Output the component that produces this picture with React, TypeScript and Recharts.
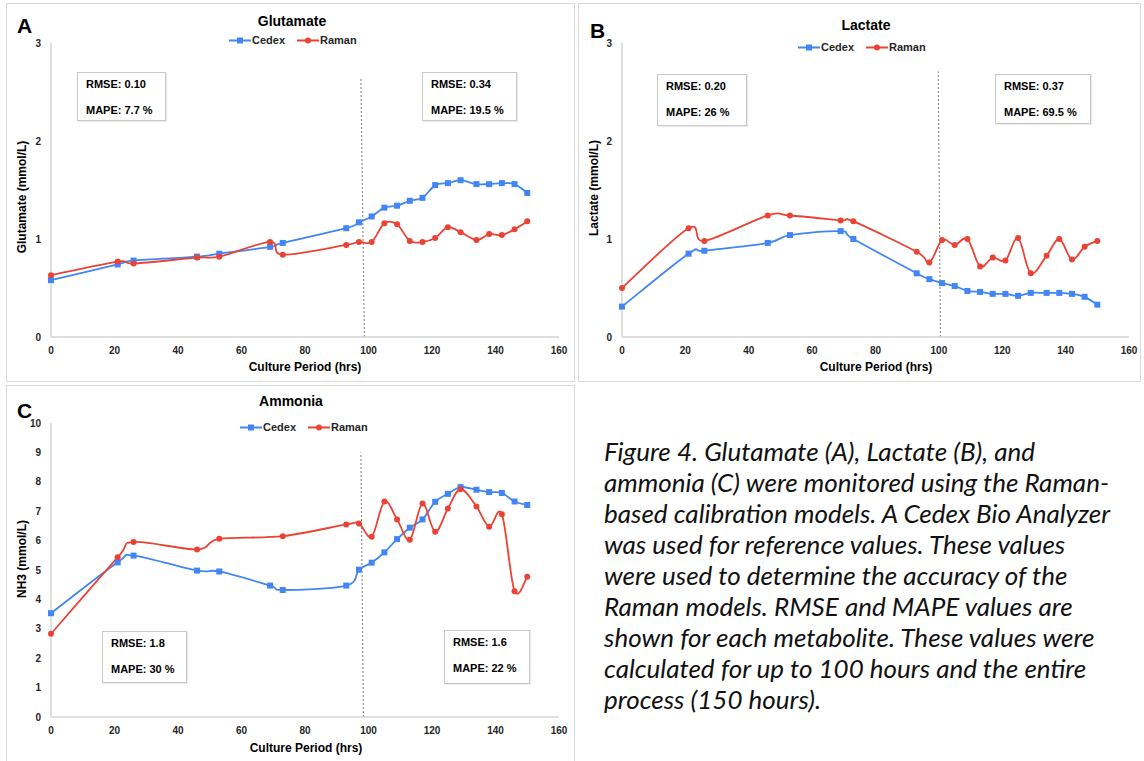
import { LineChart, Line, XAxis, YAxis, ReferenceLine } from "recharts";

// sampling times (h), shared by every series
const hours = [0, 21, 26, 46, 53, 69, 73, 93, 97, 101, 105, 109, 113, 117, 121, 125, 129, 134, 138, 142, 146, 150];
const hourTicks = [0, 20, 40, 60, 80, 100, 120, 140, 160];

const glutamateCedex = [0.58, 0.74, 0.78, 0.82, 0.85, 0.92, 0.96, 1.11, 1.17, 1.23, 1.32, 1.34, 1.39, 1.42, 1.55, 1.57, 1.6, 1.56, 1.56, 1.57, 1.56, 1.47];
const glutamateRaman = [0.63, 0.77, 0.75, 0.81, 0.82, 0.97, 0.84, 0.94, 0.97, 0.97, 1.16, 1.15, 0.98, 0.97, 1.01, 1.12, 1.07, 0.99, 1.05, 1.04, 1.1, 1.18];

const lactateCedex = [0.31, 0.85, 0.88, 0.96, 1.04, 1.08, 1.0, 0.65, 0.59, 0.55, 0.52, 0.47, 0.46, 0.44, 0.44, 0.42, 0.45, 0.45, 0.45, 0.44, 0.41, 0.33];
const lactateRaman = [0.5, 1.11, 0.98, 1.24, 1.24, 1.19, 1.18, 0.87, 0.76, 0.99, 0.94, 1.0, 0.72, 0.81, 0.78, 1.01, 0.65, 0.83, 1.0, 0.79, 0.92, 0.98];

// no Raman reading at 69 h for ammonia
const ammoniaCedex = [3.53, 5.26, 5.49, 4.98, 4.95, 4.47, 4.32, 4.47, 5.01, 5.25, 5.6, 6.05, 6.44, 6.72, 7.32, 7.59, 7.82, 7.73, 7.65, 7.62, 7.33, 7.21];
const ammoniaRaman = [2.83, 5.43, 5.95, 5.7, 6.06, null, 6.15, 6.55, 6.58, 6.13, 7.33, 6.72, 6.03, 7.26, 6.3, 7.09, 7.75, 7.16, 6.47, 6.9, 4.28, 4.77];

const mmolTicks = [0, 1, 2, 3];
const nh3Ticks = [0, 1, 2, 3, 4, 5, 6, 7, 8, 9, 10];

const glutamateStats = [["RMSE: 0.10", "MAPE: 7.7 %"], ["RMSE: 0.34", "MAPE: 19.5 %"]];
const lactateStats = [["RMSE: 0.20", "MAPE: 26 %"], ["RMSE: 0.37", "MAPE: 69.5 %"]];
const ammoniaStats = [["RMSE: 1.8", "MAPE: 30 %"], ["RMSE: 1.6", "MAPE: 22 %"]];

const captionLines = [
  "Figure 4. Glutamate (A), Lactate (B), and",
  "ammonia (C) were monitored using the Raman-",
  "based calibration models. A Cedex Bio Analyzer",
  "was used for reference values. These values",
  "were used to determine the accuracy of the",
  "Raman models. RMSE and MAPE values are",
  "shown for each metabolite. These values were",
  "calculated for up to 100 hours and the entire",
  "process (150 hours).",
];

const BLUE = "#4285f4";
const RED = "#ea4335";
const FONT = '"Liberation Sans", Arial, sans-serif';

// Excel-style smoothed line (cardinal spline, tension 0)
const excelSmooth = (context: any) => {
  let pts: number[][] = [];
  return {
    areaStart() {},
    areaEnd() {},
    lineStart() {
      pts = [];
    },
    point(x: number, y: number) {
      pts.push([+x, +y]);
    },
    lineEnd() {
      const n = pts.length;
      if (!n) return;
      context.moveTo(pts[0][0], pts[0][1]);
      for (let i = 0; i < n - 1; i++) {
        const p0 = pts[i - 1] || pts[i];
        const p1 = pts[i];
        const p2 = pts[i + 1];
        const p3 = pts[i + 2] || p2;
        context.bezierCurveTo(
          p1[0] + (p2[0] - p0[0]) / 6,
          p1[1] + (p2[1] - p0[1]) / 6,
          p2[0] - (p3[0] - p1[0]) / 6,
          p2[1] - (p3[1] - p1[1]) / 6,
          p2[0],
          p2[1]
        );
      }
    },
  };
};

const SquareDot = (props: any) => {
  const { cx, cy } = props;
  if (cx == null || cy == null) return null;
  return <rect x={cx - 3} y={cy - 3} width={6} height={6} fill={BLUE} />;
};

const axisLine = { stroke: "#d4d4d4", strokeWidth: 1.5 };
const tickStyle = { fill: "#262626", fontSize: 10, fontWeight: 700, fontFamily: FONT };

interface PanelSpec {
  letter: string;
  letterPos: [number, number];
  title: string;
  titlePos: [number, number];
  legendPos: [number, number];
  yLabel: string;
  yLabelPos: [number, number];
  xLabelPos: [number, number];
  frame: { left: number; top: number; width: number; height: number };
  chart: { left: number; top: number; width: number; height: number };
  margin: { top: number; right: number; bottom: number; left: number };
  yMax: number;
  yTicks: number[];
  cedex: (number | null)[];
  raman: (number | null)[];
  cutoff: { x: number; y: number }[];
  stats: string[][];
  boxes: { x: number; y: number; w: number; h: number }[];
}

const panels: PanelSpec[] = [
  {
    letter: "A",
    letterPos: [17, 25],
    title: "Glutamate",
    titlePos: [292, 21],
    legendPos: [229, 40],
    yLabel: "Glutamate (mmol/L)",
    yLabelPos: [22, 197],
    xLabelPos: [305, 367],
    frame: { left: 6, top: 3, width: 569, height: 379 },
    chart: { left: 0, top: 0, width: 580, height: 382 },
    margin: { top: 43, right: 21, bottom: 15, left: 11 },
    yMax: 3,
    yTicks: mmolTicks,
    cedex: glutamateCedex,
    raman: glutamateRaman,
    cutoff: [{ x: 98.7, y: 0 }, { x: 97.6, y: 2.64 }],
    stats: glutamateStats,
    boxes: [
      { x: 77, y: 72, w: 89, h: 49 },
      { x: 422, y: 72, w: 95, h: 49 },
    ],
  },
  {
    letter: "B",
    letterPos: [590, 30],
    title: "Lactate",
    titlePos: [866, 25],
    legendPos: [798, 47],
    yLabel: "Lactate (mmol/L)",
    yLabelPos: [594, 188],
    xLabelPos: [876, 367],
    frame: { left: 578, top: 3, width: 563, height: 379 },
    chart: { left: 578, top: 0, width: 566, height: 382 },
    margin: { top: 43, right: 15, bottom: 15, left: 4 },
    yMax: 3,
    yTicks: mmolTicks,
    cedex: lactateCedex,
    raman: lactateRaman,
    cutoff: [{ x: 100.5, y: 0 }, { x: 99.8, y: 2.71 }],
    stats: lactateStats,
    boxes: [
      { x: 657, y: 74, w: 90, h: 52 },
      { x: 995, y: 74, w: 96, h: 50 },
    ],
  },
  {
    letter: "C",
    letterPos: [17, 410],
    title: "Ammonia",
    titlePos: [291, 401],
    legendPos: [240, 427],
    yLabel: "NH3 (mmol/L)",
    yLabelPos: [22, 559],
    xLabelPos: [306, 748],
    frame: { left: 6, top: 385, width: 569, height: 380 },
    chart: { left: 0, top: 384, width: 580, height: 377 },
    margin: { top: 39, right: 21, bottom: 14, left: 11 },
    yMax: 10,
    yTicks: nh3Ticks,
    cedex: ammoniaCedex,
    raman: ammoniaRaman,
    cutoff: [{ x: 98.4, y: 0 }, { x: 97.6, y: 9.0 }],
    stats: ammoniaStats,
    boxes: [
      { x: 102, y: 631, w: 85, h: 52 },
      { x: 444, y: 630, w: 86, h: 54 },
    ],
  },
];

const centered = (x: number, y: number, extra: any = {}) => ({
  position: "absolute" as const,
  left: x,
  top: y,
  transform: "translate(-50%, -50%)",
  whiteSpace: "nowrap" as const,
  lineHeight: 1,
  ...extra,
});

const LegendRow = ({ x, y }: { x: number; y: number }) => (
  <div
    style={{
      position: "absolute",
      left: x,
      top: y,
      transform: "translateY(-50%)",
      display: "flex",
      alignItems: "center",
      fontFamily: FONT,
      fontSize: 11,
      fontWeight: 700,
      color: "#262626",
      lineHeight: 1,
    }}
  >
    <svg width={22} height={8}>
      <line x1={0} y1={4} x2={22} y2={4} stroke={BLUE} strokeWidth={1.8} />
      <rect x={8} y={1} width={6} height={6} fill={BLUE} />
    </svg>
    <span style={{ marginLeft: 1, marginRight: 12 }}>Cedex</span>
    <svg width={22} height={8}>
      <line x1={0} y1={4} x2={22} y2={4} stroke={RED} strokeWidth={1.8} />
      <circle cx={11} cy={4} r={3} fill={RED} />
    </svg>
    <span style={{ marginLeft: 1 }}>Raman</span>
  </div>
);

const Panel = ({ p }: { p: PanelSpec }) => {
  const rows = hours.map((t, i) => ({ t, cedex: p.cedex[i], raman: p.raman[i] }));
  return (
    <>
      <div
        style={{
          position: "absolute",
          left: p.frame.left,
          top: p.frame.top,
          width: p.frame.width,
          height: p.frame.height,
          border: "1.5px solid #d9d9d9",
          boxSizing: "border-box",
        }}
      />
      <div style={{ position: "absolute", left: p.chart.left, top: p.chart.top }}>
        <LineChart width={p.chart.width} height={p.chart.height} data={rows} margin={p.margin}>
          <XAxis
            type="number"
            dataKey="t"
            domain={[0, 160]}
            ticks={hourTicks}
            interval={0}
            axisLine={axisLine}
            tickLine={false}
            tickMargin={4}
            tick={tickStyle}
            height={30}
          />
          <YAxis
            type="number"
            domain={[0, p.yMax]}
            ticks={p.yTicks}
            interval={0}
            axisLine={axisLine}
            tickLine={false}
            tickMargin={4}
            tick={tickStyle}
            width={40}
          />
          <ReferenceLine segment={p.cutoff} stroke="#7a7a7a" strokeWidth={1} strokeDasharray="2 2" ifOverflow="visible" />
          <Line
            dataKey="cedex"
            type={excelSmooth as any}
            stroke={BLUE}
            strokeWidth={1.8}
            dot={<SquareDot />}
            activeDot={false}
            connectNulls
            isAnimationActive={false}
          />
          <Line
            dataKey="raman"
            type={excelSmooth as any}
            stroke={RED}
            strokeWidth={1.8}
            dot={{ r: 3, fill: RED, stroke: RED, strokeWidth: 0 }}
            activeDot={false}
            connectNulls
            isAnimationActive={false}
          />
        </LineChart>
      </div>

      <div style={centered(p.letterPos[0], p.letterPos[1], { transform: "translateY(-50%)", fontFamily: FONT, fontSize: 21, fontWeight: 700, color: "#000" })}>
        {p.letter}
      </div>
      <div style={centered(p.titlePos[0], p.titlePos[1], { fontFamily: FONT, fontSize: 14, fontWeight: 700, color: "#000" })}>
        {p.title}
      </div>
      <LegendRow x={p.legendPos[0]} y={p.legendPos[1]} />
      <div
        style={centered(p.yLabelPos[0], p.yLabelPos[1], {
          transform: "translate(-50%, -50%) rotate(-90deg)",
          fontFamily: FONT,
          fontSize: 12,
          fontWeight: 700,
          color: "#000",
        })}
      >
        {p.yLabel}
      </div>
      <div style={centered(p.xLabelPos[0], p.xLabelPos[1], { fontFamily: FONT, fontSize: 12, fontWeight: 700, color: "#000" })}>
        Culture Period (hrs)
      </div>

      {p.boxes.map((b, i) => (
        <div
          key={i}
          style={{
            position: "absolute",
            left: b.x,
            top: b.y,
            width: b.w,
            height: b.h,
            border: "1.5px solid #c9c9c9",
            boxSizing: "border-box",
            background: "#fff",
            boxShadow: "1px 1px 1px rgba(0,0,0,0.08)",
            fontFamily: FONT,
            fontSize: 11,
            fontWeight: 700,
            color: "#000",
            lineHeight: 1,
          }}
        >
          <div style={{ position: "absolute", left: 8, top: 11, transform: "translateY(-50%)", whiteSpace: "nowrap" }}>
            {p.stats[i][0]}
          </div>
          <div style={{ position: "absolute", left: 8, top: 37, transform: "translateY(-50%)", whiteSpace: "nowrap" }}>
            {p.stats[i][1]}
          </div>
        </div>
      ))}
    </>
  );
};

export default function App() {
  return (
    <div
      style={{
        position: "absolute",
        left: 0,
        top: 0,
        width: 1144,
        height: 761,
        background: "#fff",
        overflow: "hidden",
      }}
    >
      {panels.map((p) => (
        <Panel key={p.letter} p={p} />
      ))}
      <div
        style={{
          position: "absolute",
          left: 604,
          top: 436,
          fontFamily: "Lato, 'Open Sans', sans-serif",
          fontStyle: "italic",
          fontSize: 26,
          lineHeight: "31px",
          color: "#111",
          whiteSpace: "nowrap",
        }}
      >
        {captionLines.map((line) => (
          <div key={line}>{line}</div>
        ))}
      </div>
    </div>
  );
}
